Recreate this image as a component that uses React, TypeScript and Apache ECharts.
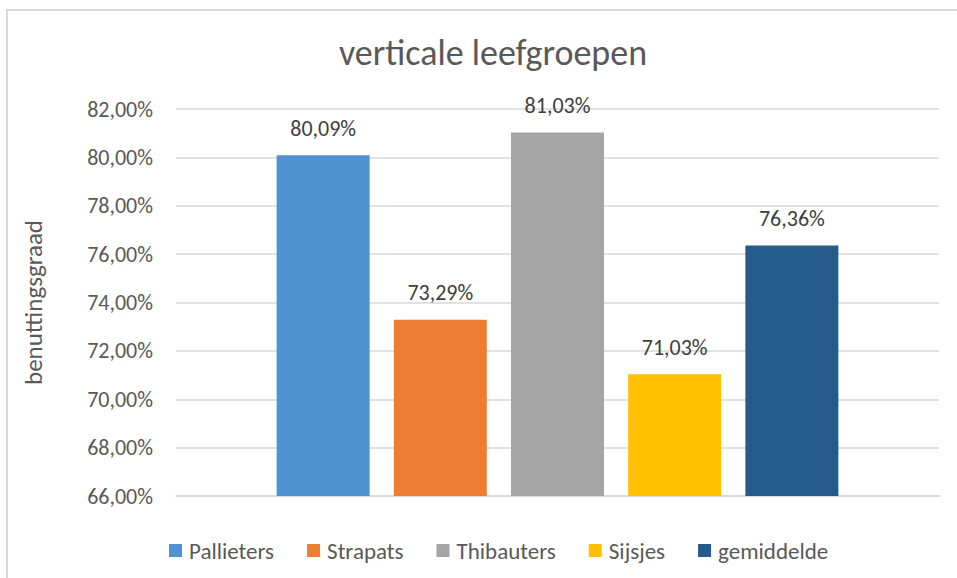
import React, { useEffect, useRef } from "react";
import * as echarts from "echarts";

const titleText = "verticale leefgroepen";
const yAxisName = "benuttingsgraad";
const seriesNames = ["Pallieters", "Strapats", "Thibauters", "Sijsjes", "gemiddelde"];
const seriesValues = [80.09, 73.29, 81.03, 71.03, 76.36];
const seriesColors = ["#4F93D3", "#ED7D31", "#A5A5A5", "#FFC000", "#245B8A"];
const yMin = 66;
const yMax = 82;
const yInterval = 2;

const FONT = "Calibri, Carlito, Lato, 'Open Sans', sans-serif";
const fmt = (v: number) => v.toFixed(2).replace(".", ",") + "%";

export default function App() {
  const ref = useRef<HTMLDivElement>(null);
  useEffect(() => {
    if (!ref.current) return;
    const chart = echarts.init(ref.current, undefined, { renderer: "svg" });
    chart.setOption({
      animation: false,
      backgroundColor: "#ffffff",
      textStyle: { fontFamily: FONT },
      title: {
        text: titleText,
        left: 488,
        textAlign: "center",
        top: 30,
        textStyle: { fontFamily: FONT, fontSize: 36, fontWeight: "normal", color: "#595959" },
      },
      graphic: [
        {
          type: "rect",
          shape: { x: 7, y: 10, width: 1000, height: 1000 },
          style: { fill: "none", stroke: "#D9D9D9", lineWidth: 2 },
          silent: true,
          z: -1,
        },
      ],
      legend: {
        top: 534,
        left: 164,
        itemWidth: 13,
        itemHeight: 13,
        itemGap: 33,
        icon: "rect",
        data: seriesNames,
        textStyle: { fontFamily: FONT, fontSize: 23, color: "#595959", padding: [0, 0, 0, 2] },
      },
      grid: { left: 176, right: 18, top: 109, bottom: 82, containLabel: false },
      xAxis: {
        type: "category",
        data: [""],
        axisTick: { show: false },
        axisLabel: { show: false },
        axisLine: { show: true, lineStyle: { color: "#D9D9D9", width: 1.5 } },
      },
      yAxis: {
        type: "value",
        min: yMin,
        max: yMax,
        interval: yInterval,
        name: yAxisName,
        nameLocation: "middle",
        nameGap: 130,
        nameRotate: 90,
        nameTextStyle: { fontFamily: FONT, fontSize: 25, color: "#595959" },
        axisLine: { show: false },
        axisTick: { show: false },
        axisLabel: {
          formatter: (v: number) => fmt(v),
          margin: 23,
          fontFamily: FONT,
          fontSize: 22,
          color: "#595959",
        },
        splitLine: { lineStyle: { color: "#D9D9D9", width: 1.5 } },
      },
      series: seriesNames.map((name, i) => ({
        name,
        type: "bar",
        data: [seriesValues[i]],
        barWidth: 93,
        barGap: "26%",
        itemStyle: { color: seriesColors[i] },
        label: {
          show: true,
          position: "top",
          distance: 16,
          formatter: (p: any) => fmt(p.value),
          fontFamily: FONT,
          fontSize: 22,
          color: "#404040",
        },
      })),
    });
    return () => chart.dispose();
  }, []);
  return (
    <div
      ref={ref}
      style={{ position: "fixed", left: 0, top: 0, width: 957, height: 578 }}
    />
  );
}
